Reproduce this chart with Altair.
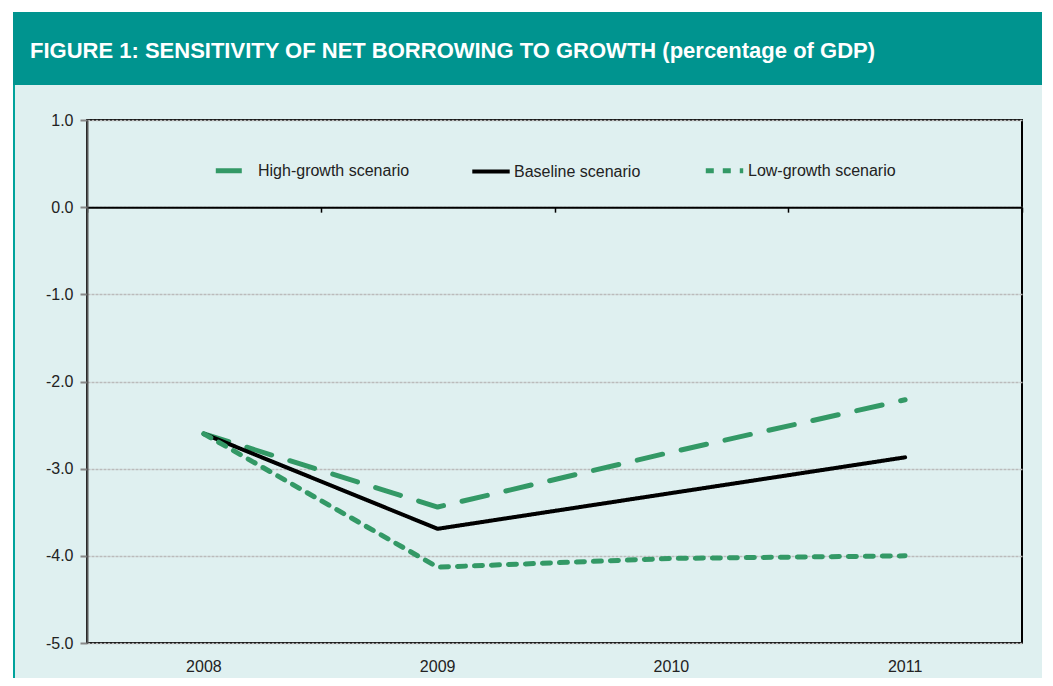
import altair as alt
import pandas as pd

years = ["2008", "2009", "2010", "2011"]
high = [-2.6, -3.44, -2.81, -2.21]
base = [-2.6, -3.69, -3.28, -2.87]
low = [-2.6, -4.13, -4.03, -4.0]
series = ["High-growth scenario", "Baseline scenario", "Low-growth scenario"]
colors = ["#339966", "#000000", "#339966"]
dashes = [[26, 19], [1, 0], [8, 9]]
widths = [5, 4, 5]
y_ticks = [1, 0, -1, -2, -3, -4, -5]
title_text = "FIGURE 1: SENSITIVITY OF NET BORROWING TO GROWTH (percentage of GDP)"

W, H = 935, 523
PL, PT, PR, PB = 79, 112, 20, 35

rows = []
for name, vals in zip(series, [high, base, low]):
    for yr, v in zip(years, vals):
        rows.append({"year": yr, "value": v, "series": name})
df = pd.DataFrame(rows)
one = pd.DataFrame({"a": [0]})

xscale = alt.Scale(type="band", domain=years, paddingInner=0, paddingOuter=0)
yscale = alt.Scale(domain=[-5, 1], nice=False, zero=False)

leg = alt.Legend(title=None, orient="none", legendX=126, legendY=29,
                 direction="horizontal", symbolType="stroke", symbolSize=1400,
                 symbolStrokeWidth=4.5, labelFontSize=16, labelColor="#222222",
                 labelFont="Liberation Sans", columnPadding=54, labelOffset=2)

# decorative frame pieces (outside plot area)
band = alt.Chart(one).mark_rect(fill="#00948f").encode(
    x=alt.value(-74), x2=alt.value(W + PR), y=alt.value(-108), y2=alt.value(-35))
left_border = alt.Chart(one).mark_rect(fill="#00a39c").encode(
    x=alt.value(-74), x2=alt.value(-72), y=alt.value(-35), y2=alt.value(H + PB))
white_left = alt.Chart(one).mark_rect(fill="#ffffff").encode(
    x=alt.value(-PL), x2=alt.value(-74), y=alt.value(-PT), y2=alt.value(H + PB))
white_top = alt.Chart(one).mark_rect(fill="#ffffff").encode(
    x=alt.value(-PL), x2=alt.value(W + PR), y=alt.value(-PT), y2=alt.value(-108))

title = alt.Chart(one).mark_text(text=title_text, align="left", baseline="middle",
                                 font="Liberation Sans", fontWeight="bold",
                                 fontSize=22, color="#ffffff").encode(
    x=alt.value(-57), y=alt.value(-69))

zero_axis = alt.Chart(df).mark_point(opacity=0).encode(
    x=alt.X("year:N", scale=xscale,
            axis=alt.Axis(orient="bottom", offset=-(H * 5 / 6), labels=False, title=None,
                          domainColor="#000000", domainWidth=2, tickColor="#000000",
                          tickWidth=1.5, tickSize=5, tickBand="extent", grid=False)))

lines = alt.Chart(df).mark_line(strokeCap="round", strokeJoin="round").encode(
    x=alt.X("year:N", scale=xscale, bandPosition=0.5,
            axis=alt.Axis(orient="bottom", title=None, ticks=False, tickSize=0, domain=False,
                          labelPadding=15, labelFontSize=16, labelColor="#222222",
                          labelAngle=0, grid=False)),
    y=alt.Y("value:Q", scale=yscale,
            axis=alt.Axis(values=y_ticks, title=None, grid=True,
                          labelExpr="replace(format(datum.value, '.1f'), '\u2212', '-')",
                          gridColor="#bbbbbb", gridWidth=1.5, gridDash=[3, 1],
                          tickColor="#888888", tickSize=7, tickWidth=2,
                          domainColor="#555555", domainWidth=2, labelPadding=7,
                          labelFontSize=16, labelColor="#222222")),
    color=alt.Color("series:N", scale=alt.Scale(domain=series, range=colors), legend=leg),
    strokeDash=alt.StrokeDash("series:N", scale=alt.Scale(domain=series, range=dashes), legend=leg),
    strokeWidth=alt.StrokeWidth("series:O", scale=alt.Scale(type="ordinal", domain=series, range=widths), legend=None),
    order=alt.Order("year:N"),
)

chart = alt.layer(white_left, white_top, band, left_border, title, zero_axis, lines).resolve_axis(
    x="independent"
).properties(
    width=W, height=H,
    autosize=alt.AutoSizeParams(type="none"),
    padding={"left": PL, "top": PT, "right": PR, "bottom": PB},
).configure(
    background="#dff0f0", font="Liberation Sans"
).configure_view(
    stroke="#000000", strokeWidth=2
)

chart.save("out.html", embed_options={"renderer": "svg", "actions": False})
